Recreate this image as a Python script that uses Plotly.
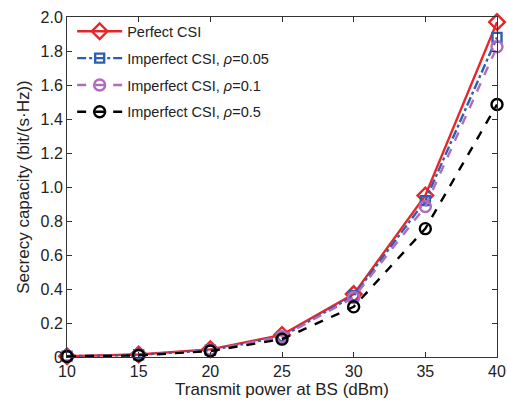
import plotly.graph_objects as go

power = [10, 15, 20, 25, 30, 35, 40]
perfect = [0.005, 0.015, 0.045, 0.13, 0.37, 0.95, 1.97]
rho005 = [0.005, 0.013, 0.04, 0.12, 0.36, 0.92, 1.88]
rho01 = [0.005, 0.013, 0.04, 0.12, 0.35, 0.885, 1.825]
rho05 = [0.003, 0.01, 0.035, 0.105, 0.295, 0.755, 1.485]

yticks = [0, 0.2, 0.4, 0.6, 0.8, 1.0, 1.2, 1.4, 1.6, 1.8, 2.0]
ytext = ["0", "0.2", "0.4", "0.6", "0.8", "1.0", "1.2", "1.4", "1.6", "1.8", "2.0"]

FONT = "Liberation Sans, Arial, sans-serif"

fig = go.Figure()
series = [
    ("Perfect CSI", perfect, "#e8262a", "solid", "diamond-open", 12),
    ("Imperfect CSI, <i>ρ</i>=0.05", rho005, "#2d5fb0", "dashdot", "square-open", 9),
    ("Imperfect CSI, <i>ρ</i>=0.1", rho01, "#b06cbc", "dash", "circle-open", 11),
    ("Imperfect CSI, <i>ρ</i>=0.5", rho05, "#000000", "dash", "circle-open", 11),
]
for i, (name, y, c, d, m, s) in enumerate(series):
    fig.add_trace(go.Scatter(
        x=power, y=y, name=name, mode="lines+markers", legendgroup=f"g{i}",
        line=dict(color=c, width=2.4, dash=d), cliponaxis=False,
        marker=dict(symbol=m, size=s, color=c, line=dict(width=2.4, color=c)),
    ))

axis_common = dict(
    showline=True, linecolor="#333", linewidth=1, mirror="ticks",
    ticks="inside", ticklen=5, tickcolor="#333", showgrid=False, zeroline=False,
    tickfont=dict(family=FONT, size=16, color="#222"), automargin=False,
)
fig.update_xaxes(range=[10, 40], tickvals=power, **axis_common,
                 title=dict(text="Transmit power at BS (dBm)", standoff=2,
                            font=dict(family=FONT, size=17, color="#222")))
fig.update_yaxes(range=[0, 2.0], tickvals=yticks, ticktext=ytext, **axis_common,
                 title=dict(text="Secrecy capacity (bit/(s·Hz))", standoff=6,
                            font=dict(family=FONT, size=17, color="#222")))

fig.update_layout(
    width=509, height=405,
    margin=dict(l=67, r=12, t=17, b=48),
    paper_bgcolor="white", plot_bgcolor="white",
    showlegend=True,
    legend=dict(x=0.012, y=1.005, xanchor="left", yanchor="top",
                bgcolor="rgba(0,0,0,0)", borderwidth=0,
                font=dict(family=FONT, size=14.5, color="#222"),
                tracegroupgap=5, itemwidth=45),
)
fig.write_html("out.html", config={"displayModeBar": False},
               post_script="document.body.style.margin='0';")
